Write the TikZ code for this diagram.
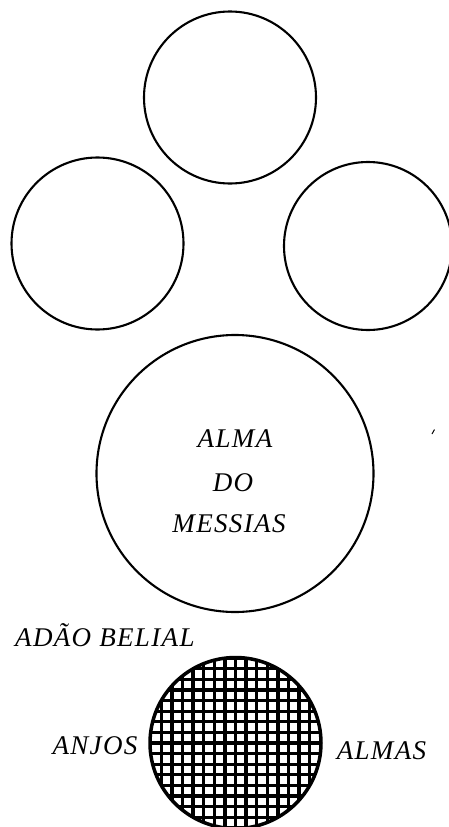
\documentclass[tikz,border=0pt]{standalone}
\usepackage{fontspec}
\setmainfont{Liberation Serif}
\begin{document}
\begin{tikzpicture}[x=1pt,y=-1pt,
  ring/.style={draw, circle, line width=2.1pt, inner sep=0pt, outer sep=0pt},
  lbl/.style={font=\fontsize{27}{30}\selectfont\itshape\addfontfeature{LetterSpace=5}, inner sep=0pt},
  gridline/.style={line width=3.3pt}]
\useasboundingbox (0,0) rectangle (449,827);
\node[ring, minimum size=172pt] (top) at (230,97.5) {};
\node[ring, minimum size=172pt] (left) at (97.5,243.5) {};
\node[ring, minimum size=168pt] (right) at (368,246) {};
\node[ring, minimum size=277pt] (messias) at (235,473.5) {};
\node[lbl, anchor=base] (t1) at (235,447) {ALMA};
\node[lbl, anchor=base] (t2) at (233,491) {DO};
\node[lbl, anchor=base] (t3) at (229,532) {MESSIAS};
\node[lbl, anchor=base west] (adao) at (15,646) {ADÃO BELIAL};
\node[ring, line width=3.5pt, minimum size=171pt] (hatch) at (235.5,743) {};
\begin{scope}
  \clip (hatch.center) circle[radius=85.5pt];
  \foreach \i in {-8,...,8} {
    \draw[gridline] ([xshift=\i*10.6pt]hatch.north) -- ([xshift=\i*10.6pt]hatch.south);
    \draw[gridline] ([yshift=\i*10.6pt]hatch.west) -- ([yshift=\i*10.6pt]hatch.east);
  }
\end{scope}
\node[lbl, anchor=base] (anjos) at (95,754) {ANJOS};
\node[lbl, anchor=base] (almas) at (381.5,759) {ALMAS};
\coordinate (s1) at (432,434);
\coordinate (s2) at (434.5,429.5);
\draw[line width=1pt] (s1) -- (s2);
\end{tikzpicture}
\end{document}
